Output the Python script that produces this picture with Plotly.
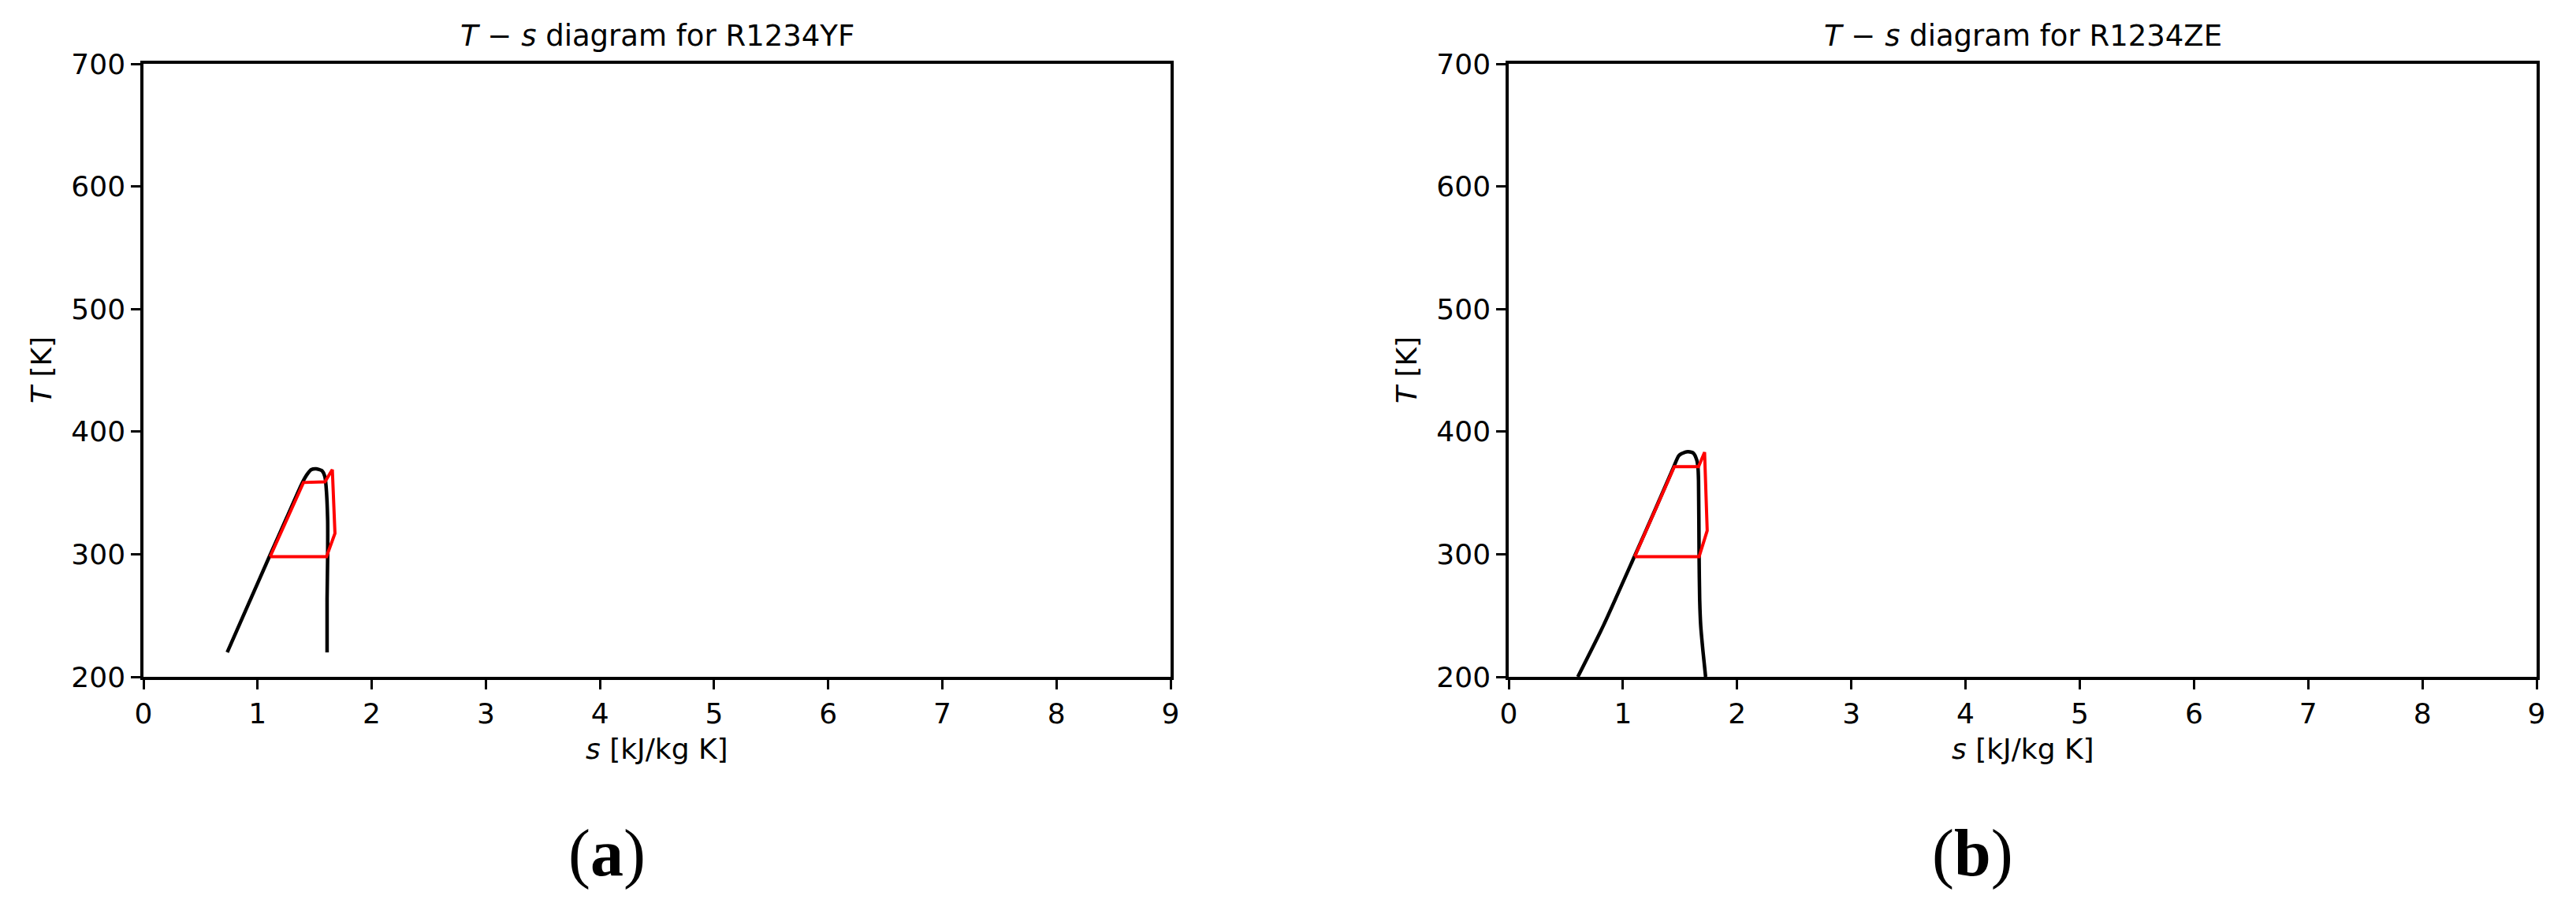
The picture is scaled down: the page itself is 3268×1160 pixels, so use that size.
import plotly.graph_objects as go

W, H = 3268, 1160
OFF = 8  # page body margin in the browser
FONT = 'DejaVu Sans'

# saturation dome, R1234yf (s in kJ/kg K, T in K)
yf_dome_s = [0.734, 0.923, 1.103, 1.256, 1.390, 1.436, 1.471, 1.512, 1.563, 1.590, 1.600, 1.614, 1.614, 1.609, 1.609]
yf_dome_T = [220.0, 260.0, 298.0, 330.0, 358.0, 365.4, 369.0, 369.7, 368.2, 363.2, 355.7, 327.9, 298.0, 263.6, 220.0]
# cycle, R1234yf
yf_cycle_s = [1.110, 1.402, 1.590, 1.655, 1.678, 1.604, 1.110]
yf_cycle_T = [298.0, 358.5, 359.0, 369.0, 317.0, 298.0, 298.0]

# saturation dome, R1234ze
ze_dome_s = [0.605, 0.830, 1.100, 1.290, 1.443, 1.490, 1.545, 1.570, 1.616, 1.646, 1.657, 1.662, 1.667, 1.672, 1.681, 1.701, 1.724]
ze_dome_T = [200.0, 242.0, 298.0, 338.0, 370.8, 380.4, 383.2, 383.6, 382.5, 377.0, 371.0, 360.0, 298.0, 263.6, 242.0, 220.8, 200.0]
# cycle, R1234ze
ze_cycle_s = [1.103, 1.450, 1.662, 1.715, 1.738, 1.667, 1.103]
ze_cycle_T = [298.0, 371.4, 371.4, 383.2, 319.3, 298.0, 298.0]

titles = ['<i>T</i> − <i>s</i> diagram for R1234YF', '<i>T</i> − <i>s</i> diagram for R1234ZE']
captions = ['(<b>a</b>)', '(<b>b</b>)']
x_ticks = [0, 1, 2, 3, 4, 5, 6, 7, 8, 9]
y_ticks = [200, 300, 400, 500, 600, 700]


def px(x):
    return (x - OFF) / W


def py(y):
    return 1 - (y - OFF) / H


fig = go.Figure()
fig.add_trace(go.Scatter(x=yf_dome_s, y=yf_dome_T, mode='lines', line=dict(color='black', width=4.5, shape='spline', smoothing=0.6), xaxis='x', yaxis='y'))
fig.add_trace(go.Scatter(x=yf_cycle_s, y=yf_cycle_T, mode='lines', line=dict(color='red', width=4), xaxis='x', yaxis='y'))
fig.add_trace(go.Scatter(x=ze_dome_s, y=ze_dome_T, mode='lines', line=dict(color='black', width=4.5, shape='spline', smoothing=0.6), xaxis='x2', yaxis='y2'))
fig.add_trace(go.Scatter(x=ze_cycle_s, y=ze_cycle_T, mode='lines', line=dict(color='red', width=4), xaxis='x2', yaxis='y2'))

ydom = [py(859), py(81)]
xdoms = [[px(182), px(1485)], [px(1914), px(3218)]]

axis_common = dict(
    showline=True, linecolor='black', linewidth=3.5, mirror=True,
    ticks='outside', ticklen=12, tickwidth=3, tickcolor='black',
    showgrid=False, zeroline=False, automargin=False,
    tickfont=dict(family=FONT, size=36, color='black'),
)
fig.update_layout(
    xaxis=dict(domain=xdoms[0], range=[0, 9], tickvals=x_ticks, anchor='y', **axis_common),
    yaxis=dict(domain=ydom, range=[200, 700], tickvals=y_ticks, anchor='x', **axis_common),
    xaxis2=dict(domain=xdoms[1], range=[0, 9], tickvals=x_ticks, anchor='y2', **axis_common),
    yaxis2=dict(domain=ydom, range=[200, 700], tickvals=y_ticks, anchor='x2', **axis_common),
)

annotations = []
for i in range(2):
    x0, x1 = xdoms[i]
    cx = (x0 + x1) / 2
    text_common = dict(xref='paper', yref='paper', showarrow=False, xanchor='center', yanchor='middle')
    annotations.append(dict(text=titles[i], x=cx, y=py(45),
                            font=dict(family=FONT, size=37, color='black'), **text_common))
    annotations.append(dict(text='<i>s</i> [kJ/kg K]', x=cx, y=py(950),
                            font=dict(family=FONT, size=36, color='black'), **text_common))
    annotations.append(dict(text='<i>T</i> [K]', x=x0 - 129 / W, y=(ydom[0] + ydom[1]) / 2, textangle=-90,
                            font=dict(family=FONT, size=36, color='black'), **text_common))
    annotations.append(dict(text=captions[i], x=cx - 64 / W, y=py(1083),
                            font=dict(family='Liberation Serif', size=84, color='black'), **text_common))

fig.update_layout(
    width=W, height=H,
    margin=dict(t=0, r=0, b=0, l=0, pad=0),
    paper_bgcolor='white', plot_bgcolor='white',
    showlegend=False,
    annotations=annotations,
)

fig.write_html('out.html')
